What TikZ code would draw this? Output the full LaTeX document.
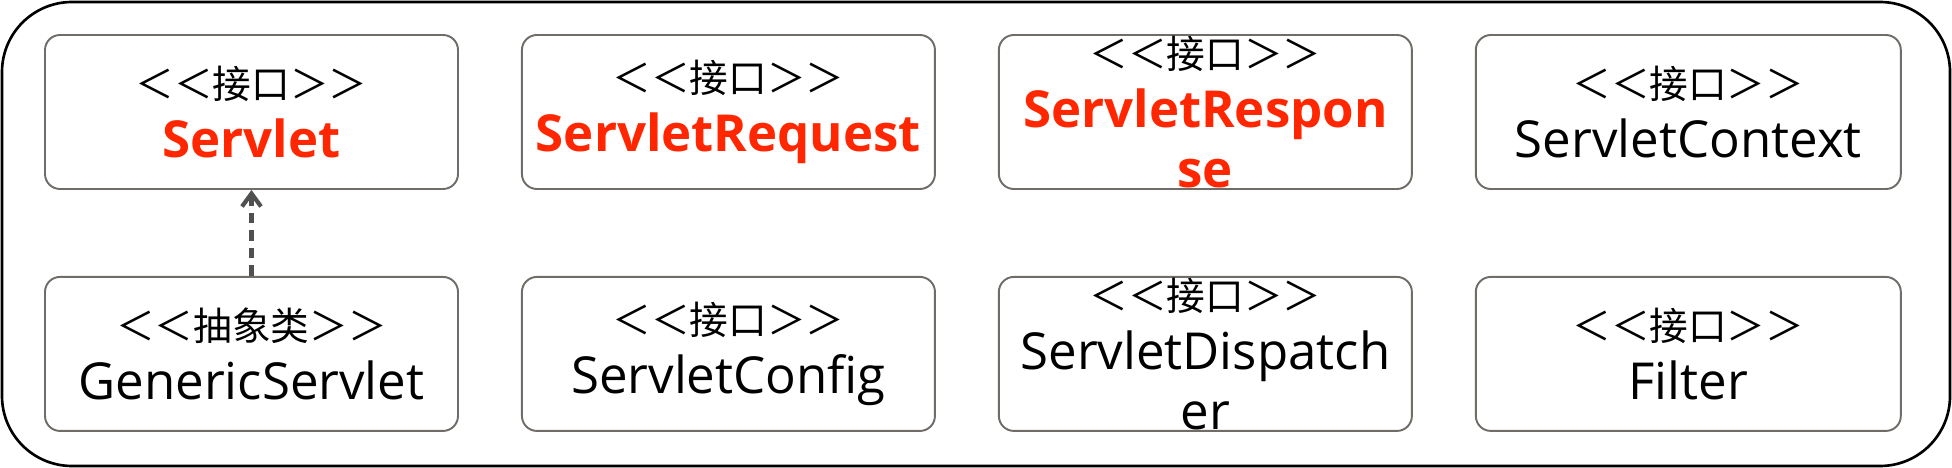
\documentclass[tikz,border=0pt]{standalone}
\usepackage{fontspec}
\setmainfont{Open Sans}
\newfontfamily\cjk{Noto Sans CJK SC}
\usetikzlibrary{positioning,arrows.meta}

\definecolor{boxgray}{RGB}{112,108,104}
\definecolor{arrowgray}{RGB}{80,80,80}
\definecolor{keyred}{RGB}{255,38,0}

\newcommand{\stereo}[1]{{\cjk\fontsize{22}{34}\selectfont ＜＜#1＞＞}}
\newcommand{\keyname}[1]{{\color{keyred}\bfseries #1}}

\tikzset{
	cls/.style={draw=boxgray, line width=1.1pt, rounded corners=0.3cm,
		minimum width=8.26cm, minimum height=3.08cm, inner sep=0pt},
	txt/.style={align=center, font=\fontsize{29}{34}\selectfont, inner sep=0pt},
}

\begin{document}
\begin{tikzpicture}
	\useasboundingbox (0,0) rectangle (39.04,-9.36);
	\draw[line width=1.5pt, rounded corners=1.4cm] (0.04,-0.04) rectangle (39,-9.32);
	% top row
	\node[cls] (srv) at (5.03,-2.24) {};
	\node[cls, right=1.24cm of srv] (req) {};
	\node[cls, right=1.24cm of req] (resp) {};
	\node[cls, right=1.24cm of resp, minimum width=8.5cm] (ctx) {};
	% bottom row
	\node[cls, below=1.72cm of srv] (gen) {};
	\node[cls, right=1.24cm of gen] (cfg) {};
	\node[cls, right=1.24cm of cfg] (disp) {};
	\node[cls, right=1.24cm of disp, minimum width=8.5cm] (filt) {};
	% texts
	\node[txt] (srv-t) at (srv) {\stereo{接口}\\\keyname{Servlet}};
	\node[txt] (req-t) at (req) {\stereo{接口}\\\keyname{ServletRequest}};
	\node[txt] (resp-t) at (resp) {\stereo{接口}\\\keyname{ServletRespon}\\\keyname{se}};
	\node[txt] (ctx-t) at (ctx) {\stereo{接口}\\ServletContext};
	\node[txt] (gen-t) at (gen) {\stereo{抽象类}\\GenericServlet};
	\node[txt] (cfg-t) at (cfg) {\stereo{接口}\\ServletConfig};
	\node[txt] (disp-t) at (disp) {\stereo{接口}\\ServletDispatch\\er};
	\node[txt] (filt-t) at (filt) {\stereo{接口}\\Filter};
	% realization
	\draw[arrowgray, line width=2.4pt, dash pattern=on 6pt off 4pt,
		-{Straight Barb[length=2.6mm, width=3.8mm]}] (gen) -- (srv);
\end{tikzpicture}
\end{document}
